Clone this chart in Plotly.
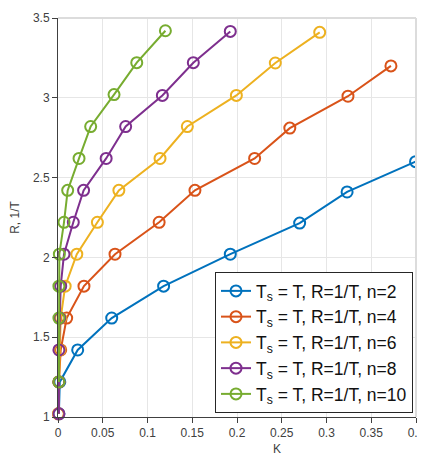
import plotly.graph_objects as go

# Data
k_n2 = [0.001, 0.002, 0.022, 0.060, 0.118, 0.1925, 0.270, 0.323, 0.3995]
r_n2 = [1.02, 1.22, 1.42, 1.62, 1.82, 2.02, 2.215, 2.41, 2.60]

k_n4 = [0.0005, 0.001, 0.003, 0.0097, 0.029, 0.0637, 0.113, 0.153, 0.2197, 0.259, 0.324, 0.372]
r_n4 = [1.02, 1.22, 1.42, 1.62, 1.82, 2.02, 2.22, 2.42, 2.62, 2.81, 3.01, 3.20]

k_n6 = [0.0005, 0.001, 0.002, 0.003, 0.008, 0.021, 0.044, 0.068, 0.114, 0.1445, 0.1993, 0.2428, 0.2924]
r_n6 = [1.02, 1.22, 1.42, 1.62, 1.82, 2.02, 2.22, 2.42, 2.62, 2.82, 3.015, 3.218, 3.41]

k_n8 = [0.001, 0.001, 0.001, 0.002, 0.003, 0.0067, 0.0171, 0.0286, 0.0538, 0.0756, 0.1166, 0.1512, 0.1925]
r_n8 = [1.02, 1.22, 1.42, 1.62, 1.82, 2.02, 2.22, 2.42, 2.62, 2.82, 3.015, 3.22, 3.416]

k_n10 = [0.001, 0.001, 0.001, 0.0015, 0.0067, 0.0108, 0.0235, 0.0365, 0.0626, 0.088, 0.120]
r_n10 = [1.22, 1.62, 1.82, 2.02, 2.22, 2.42, 2.62, 2.82, 3.02, 3.22, 3.42]

series = [
    ("n=2", k_n2, r_n2, "#0072BD"),
    ("n=4", k_n4, r_n4, "#D95319"),
    ("n=6", k_n6, r_n6, "#EDB120"),
    ("n=8", k_n8, r_n8, "#7E2F8E"),
    ("n=10", k_n10, r_n10, "#77AC30"),
]

x_ticks = [0, 0.05, 0.1, 0.15, 0.2, 0.25, 0.3, 0.35, 0.4]
x_labels = ["0", "0.05", "0.1", "0.15", "0.2", "0.25", "0.3", "0.35", "0.4"]
y_ticks = [1, 1.5, 2, 2.5, 3, 3.5]
y_labels = ["1", "1.5", "2", "2.5", "3", "3.5"]

fig = go.Figure()
for name, xs, ys, col in series:
    fig.add_trace(go.Scatter(
        x=xs, y=ys, mode="lines+markers",
        name="T<sub>s</sub> = T, R=1/T, " + name,
        line=dict(color=col, width=2),
        marker=dict(symbol="circle-open", size=11, color=col, line=dict(width=2, color=col)),
        cliponaxis=False,
    ))

# page body has an 8px margin, so the figure is made 8px smaller and shifted
W, H = 417, 447
L, R, T, B = 50, 9, 10, 38

fig.update_layout(
    width=W, height=H,
    margin=dict(l=L, r=R, t=T, b=B, autoexpand=False),
    paper_bgcolor="white", plot_bgcolor="white",
    font=dict(family="Liberation Sans, Arial, sans-serif", color="#404040", size=12),
    showlegend=True,
    legend=dict(
        x=0.9916, xanchor="right", y=0.01, yanchor="bottom",
        bgcolor="white", bordercolor="#262626", borderwidth=1,
        font=dict(size=17.5, color="#111111"),
        tracegroupgap=0, itemwidth=30,
    ),
    xaxis=dict(
        range=[0, 0.4], tickvals=x_ticks, ticktext=x_labels,
        showgrid=True, gridcolor="#e6e6e6", gridwidth=1,
        showline=True, linecolor="#404040", linewidth=1,
        ticks="outside", ticklen=5, tickcolor="#404040",
        zeroline=False, tickfont=dict(size=12, color="#404040"),
        automargin=False,
    ),
    yaxis=dict(
        range=[1, 3.5], tickvals=y_ticks, ticktext=y_labels,
        showgrid=True, gridcolor="#e6e6e6", gridwidth=1,
        showline=True, linecolor="#404040", linewidth=1,
        ticks="outside", ticklen=5, tickcolor="#404040",
        zeroline=False, tickfont=dict(size=12, color="#404040"),
        title=dict(text="R, 1/T", font=dict(size=12, color="#404040"), standoff=12),
        automargin=False,
    ),
    shapes=[
        dict(type="line", xref="paper", yref="paper", x0=0, x1=1, y0=1, y1=1,
             line=dict(color="#dcdcdc", width=2)),
        dict(type="line", xref="paper", yref="paper", x0=1, x1=1, y0=0, y1=1,
             line=dict(color="#dcdcdc", width=2)),
    ],
    annotations=[
        dict(text="K", xref="paper", yref="paper", x=(277 - 8 - L) / (W - L - R), y=-0.08,
             showarrow=False, font=dict(size=12, color="#404040"), yanchor="middle"),
    ],
)

fig.write_html("out.html")
